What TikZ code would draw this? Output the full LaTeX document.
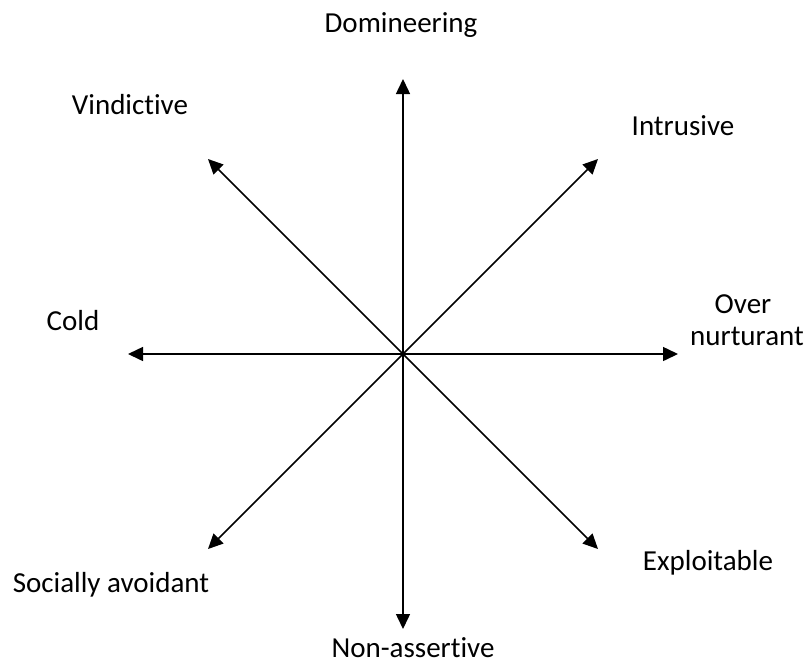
\documentclass[tikz,border=0pt]{standalone}
\usepackage{fontspec}
\setmainfont[Ligatures=NoCommon]{Carlito}
\usetikzlibrary{arrows.meta}
\begin{document}
\begin{tikzpicture}[x=1pt,y=-1pt,
  axis/.style={line width=1.5pt,-{Triangle[width=14pt,length=15pt]}},
  lbl/.style={font=\fontsize{29}{26}\selectfont,inner sep=0pt,align=center,anchor=base}]
\useasboundingbox (0,0) rectangle (808,665);
\coordinate (c) at (403,354);
\coordinate (n) at (403,79);
\coordinate (s) at (403,629);
\coordinate (w) at (128,354);
\coordinate (e) at (678,354);
\coordinate (nw) at (208,159);
\coordinate (ne) at (598,159);
\coordinate (sw) at (208,549);
\coordinate (se) at (598,549);
\foreach \t in {n,s,w,e,nw,ne,sw,se} \draw[axis] (c) -- (\t);
\node[lbl] (dom) at (401,32) {Domineering};
\node[lbl] (vin) at (130,114) {Vindictive};
\node[lbl] (int) at (683,135) {Intrusive};
\node[lbl] (cold) at (73,330) {Cold};
\node[lbl] (over) at (743,313) {Over};
\node[lbl] (nurt) at (747,345) {nurturant};
\node[lbl] (soc) at (111,592) {Socially avoidant};
\node[lbl] (exp) at (708,570) {Exploitable};
\node[lbl] (non) at (413,657) {Non-assertive};
\end{tikzpicture}
\end{document}
